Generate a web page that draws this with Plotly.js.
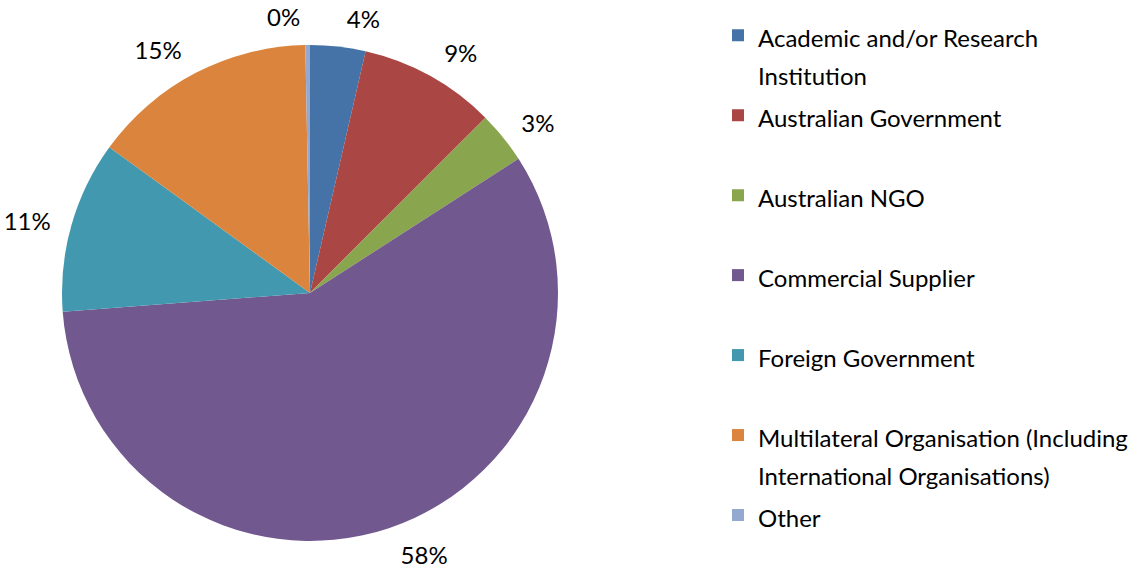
<!DOCTYPE html>
<html>
<head>
<meta charset="utf-8">
<script src="https://cdn.plot.ly/plotly-3.0.1.min.js"></script>
<style>html,body{margin:0;padding:0;background:#fff;}#chart{width:1141px;height:569px;}</style>
</head>
<body>
<div id="chart"></div>
<script>
// Categories (legend order, clockwise from 12 o'clock)
const categories = [
  "Academic and/or Research Institution",
  "Australian Government",
  "Australian NGO",
  "Commercial Supplier",
  "Foreign Government",
  "Multilateral Organisation (Including International Organisations)",
  "Other"
];
// Legend text lines (wrapped as in the reference)
const legendLines = [
  ["Academic and/or Research", "Institution"],
  ["Australian Government"],
  ["Australian NGO"],
  ["Commercial Supplier"],
  ["Foreign Government"],
  ["Multilateral Organisation (Including", "International Organisations)"],
  ["Other"]
];
// Share of total (%)
const shares = [3.6, 8.9, 3.4, 57.9, 11.2, 14.7, 0.3];
const colors = ["#4572A7", "#AA4643", "#89A54E", "#71588F", "#4198AF", "#DB843D", "#93A9CF"];

const W = 1141, H = 569;
const FONT = "Lato, 'Open Sans', sans-serif";
const TEXT_SIZE = 24;

// every legend entry except the last takes two lines so entries are evenly spaced
const legendLabels = legendLines.map((lines, i) => {
  const l = lines.map(s => `<span style="font-size:${TEXT_SIZE}px">${s}</span>`);
  if (i < legendLines.length - 1) while (l.length < 2) l.push(" ");
  return l.join("<br>");
});

// pie geometry (pixels)
const CX = 310, CY = 293, R = 248, R_LABEL = 262;
const dom = r => ({
  x: [(CX - r) / W, (CX + r) / W],
  y: [(H - CY - r) / H, (H - CY + r) / H]
});

// visible pie
const pie = {
  type: "pie",
  labels: legendLabels,
  values: shares,
  customdata: categories,
  sort: false,
  direction: "clockwise",
  rotation: 0,
  marker: { colors: colors, line: { width: 0 } },
  textinfo: "none",
  hovertemplate: "%{customdata}: %{percent:.0%}<extra></extra>",
  domain: dom(R),
  showlegend: true
};

// transparent companion pie (same values) that carries the percentage labels a bit further out
const labelPie = {
  type: "pie",
  labels: legendLabels,
  values: shares,
  sort: false,
  direction: "clockwise",
  rotation: 0,
  marker: { colors: shares.map(() => "rgba(0,0,0,0)"), line: { width: 0 } },
  textposition: "outside",
  texttemplate: "%{percent:.0%}",
  hoverinfo: "skip",
  outsidetextfont: { family: FONT, size: TEXT_SIZE, color: "#000" },
  domain: dom(R_LABEL),
  showlegend: false
};

const layout = {
  width: W, height: H,
  margin: { l: 0, r: 0, t: 0, b: 0 },
  paper_bgcolor: "#fff",
  font: { family: FONT, size: 20, color: "#000" },
  showlegend: true,
  legend: {
    x: 718 / W, xanchor: "left",
    y: 1 - 9.5 / H, yanchor: "top",
    valign: "top",
    font: { family: FONT, size: 29.6, color: "#000" },
    bgcolor: "rgba(0,0,0,0)",
    traceorder: "normal"
  }
};

Plotly.newPlot("chart", [labelPie, pie], layout, { staticPlot: true });
</script>
</body>
</html>
